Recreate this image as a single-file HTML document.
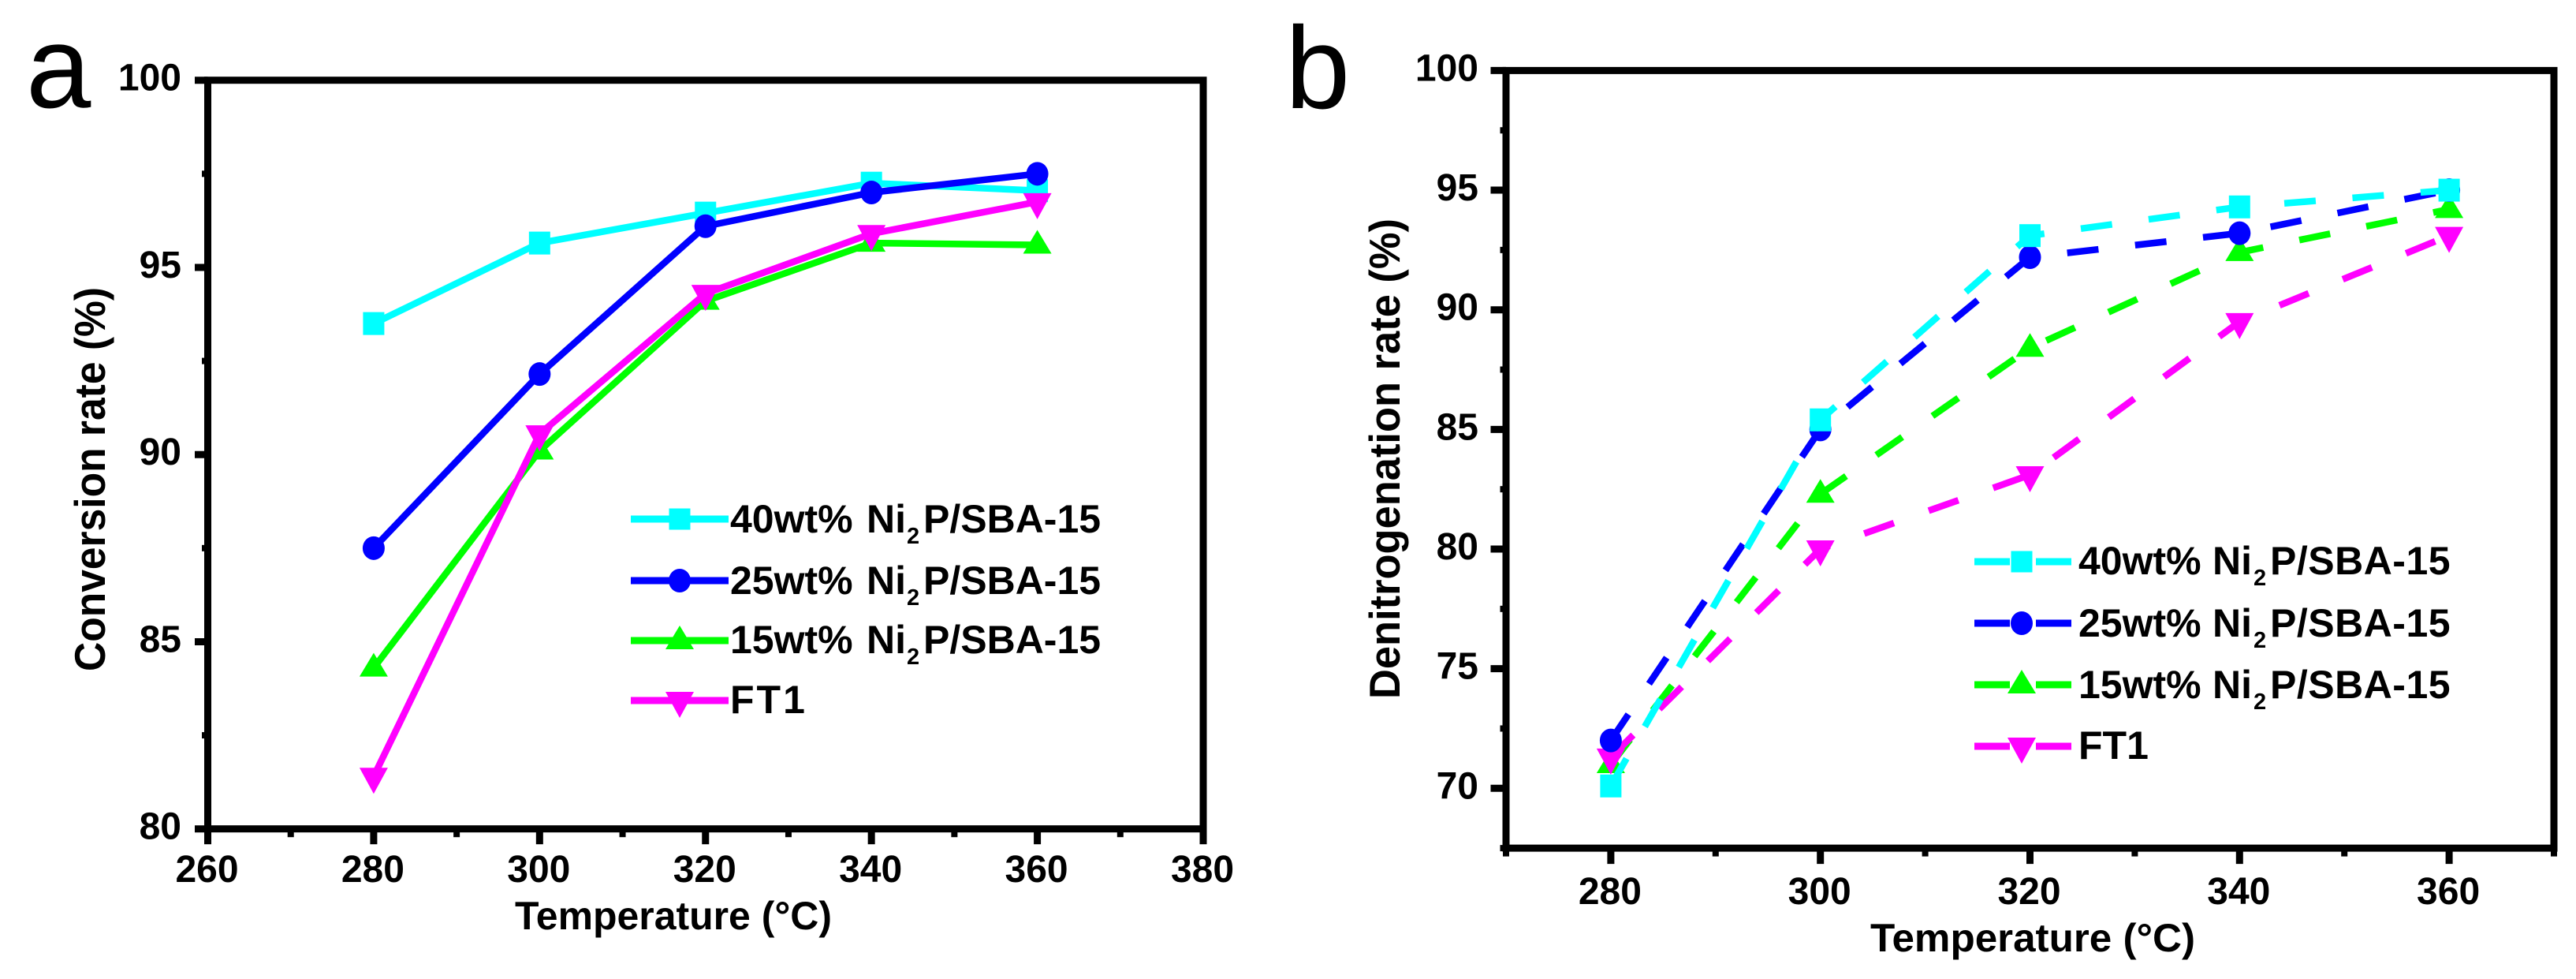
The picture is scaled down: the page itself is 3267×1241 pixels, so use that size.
<!DOCTYPE html>
<html lang="en">
<head>
<meta charset="utf-8">
<title>Conversion and denitrogenation rate vs temperature</title>
<style>
html,body{margin:0;padding:0;background:#fff;}
svg{display:block;}
text{font-family:"Liberation Sans",Arial,sans-serif;font-weight:bold;fill:#000;}
.panel-letter{font-weight:normal;font-size:148px;}
.tick-label{font-size:48px;}
.x-title{font-size:50px;}
.y-title{font-size:55px;}
.legend-text{font-size:50px;}
.legend-sub{font-size:29px;}
</style>
</head>
<body>
<svg id="figure" xmlns="http://www.w3.org/2000/svg" width="3267" height="1241" viewBox="0 0 3267 1241">
  <rect width="3267" height="1241" fill="#fff"/>
  <g id="panel-a">
    <text class="panel-letter" x="33" y="136">a</text>
    <text class="x-title" x="653" y="1178" textLength="402" lengthAdjust="spacingAndGlyphs">Temperature (°C)</text>
    <text class="y-title" transform="translate(133 851) rotate(-90)" textLength="487" lengthAdjust="spacingAndGlyphs">Conversion rate (%)</text>
    <g id="marks-a"></g>
    <g>
      <g>
        <line x1="800" x2="924" y1="658" y2="658" stroke="#00ffff" stroke-width="9"/>
        <rect x="848.500" y="644.500" width="27" height="27" fill="#00ffff"/>
        <text class="legend-text" y="675"><tspan x="926">40wt%</tspan><tspan x="1099">Ni</tspan><tspan class="legend-sub" x="1150" dy="14">2</tspan><tspan x="1171" dy="-14">P/SBA-15</tspan></text>
      </g>
      <g>
        <line x1="800" x2="924" y1="736" y2="736" stroke="#0000ff" stroke-width="9"/>
        <ellipse cx="862" cy="736" rx="14" ry="15" fill="#0000ff"/>
        <text class="legend-text" y="753"><tspan x="926">25wt%</tspan><tspan x="1099">Ni</tspan><tspan class="legend-sub" x="1150" dy="14">2</tspan><tspan x="1171" dy="-14">P/SBA-15</tspan></text>
      </g>
      <g>
        <line x1="800" x2="924" y1="812" y2="812" stroke="#00ff00" stroke-width="9"/>
        <polygon points="862,793 880,823 844,823" fill="#00ff00"/>
        <text class="legend-text" y="828"><tspan x="926">15wt%</tspan><tspan x="1099">Ni</tspan><tspan class="legend-sub" x="1150" dy="14">2</tspan><tspan x="1171" dy="-14">P/SBA-15</tspan></text>
      </g>
      <g>
        <line x1="800" x2="924" y1="888" y2="888" stroke="#ff00ff" stroke-width="9"/>
        <polygon points="844,877 880,877 862,910" fill="#ff00ff"/>
        <text class="legend-text" y="904" x="926" letter-spacing="3">FT1</text>
      </g>
    </g>
  </g>
  <g id="panel-b">
    <text class="panel-letter" x="1630" y="137">b</text>
    <text class="x-title" x="2372" y="1206" textLength="412" lengthAdjust="spacingAndGlyphs">Temperature (°C)</text>
    <text class="y-title" transform="translate(1775 886) rotate(-90)" textLength="609" lengthAdjust="spacingAndGlyphs">Denitrogenation rate (%)</text>
    <g id="marks-b"></g>
    <g>
      <g>
        <line x1="2504" x2="2627" y1="712" y2="712" stroke="#00ffff" stroke-width="9" stroke-dasharray="45 33"/>
        <rect x="2550.500" y="698.500" width="27" height="27" fill="#00ffff"/>
        <text class="legend-text" y="728"><tspan x="2636">40wt%</tspan><tspan x="2806">Ni</tspan><tspan class="legend-sub" x="2858" dy="14">2</tspan><tspan x="2879" dy="-14" letter-spacing="0.500">P/SBA-15</tspan></text>
      </g>
      <g>
        <line x1="2504" x2="2627" y1="790" y2="790" stroke="#0000ff" stroke-width="9" stroke-dasharray="45 33"/>
        <ellipse cx="2564" cy="790" rx="14" ry="15" fill="#0000ff"/>
        <text class="legend-text" y="807"><tspan x="2636">25wt%</tspan><tspan x="2806">Ni</tspan><tspan class="legend-sub" x="2858" dy="14">2</tspan><tspan x="2879" dy="-14" letter-spacing="0.500">P/SBA-15</tspan></text>
      </g>
      <g>
        <line x1="2504" x2="2627" y1="868" y2="868" stroke="#00ff00" stroke-width="9" stroke-dasharray="45 33"/>
        <polygon points="2564,849 2582,879 2546,879" fill="#00ff00"/>
        <text class="legend-text" y="885"><tspan x="2636">15wt%</tspan><tspan x="2806">Ni</tspan><tspan class="legend-sub" x="2858" dy="14">2</tspan><tspan x="2879" dy="-14" letter-spacing="0.500">P/SBA-15</tspan></text>
      </g>
      <g>
        <line x1="2504" x2="2627" y1="946" y2="946" stroke="#ff00ff" stroke-width="9" stroke-dasharray="45 33"/>
        <polygon points="2546,935 2582,935 2564,968" fill="#ff00ff"/>
        <text class="legend-text" y="962" x="2636">FT1</text>
      </g>
    </g>
  </g>
</svg>
<script>
// Panel a values
const temperaturesA = [280, 300, 320, 340, 360];
const conv40wt = [93.5, 95.65, 96.45, 97.25, 97.05];
const conv25wt = [87.5, 92.15, 96.1, 97.0, 97.5];
const conv15wt = [84.3, 90.1, 94.1, 95.65, 95.6];
const convFT1 = [81.4, 90.55, 94.3, 95.9, 96.75];
const xTicksA = [260, 280, 300, 320, 340, 360, 380];
const xMinorA = [270, 290, 310, 330, 350, 370];
const yTicksA = [80, 85, 90, 95, 100];
const yMinorA = [82.5, 87.5, 92.5, 97.5];

// Panel b values
const temperaturesB = [280, 300, 320, 340, 360];
const denit40wt = [70.1, 85.4, 93.1, 94.3, 95.0];
const denit25wt = [72.0, 85.0, 92.2, 93.2, 95.0];
const denit15wt = [71.0, 82.3, 88.4, 92.4, 94.2];
const denitFT1 = [71.3, 80.0, 83.1, 89.5, 93.1];
const xTicksB = [280, 300, 320, 340, 360];
const xMinorB = [270, 290, 310, 330, 350, 370];
const yTicksB = [70, 75, 80, 85, 90, 95, 100];
const yMinorB = [67.5, 72.5, 77.5, 82.5, 87.5, 92.5, 97.5];

const NS = 'http://www.w3.org/2000/svg';

function linearScale(d0, d1, r0, r1) {
  return function (v) { return r0 + (v - d0) * (r1 - r0) / (d1 - d0); };
}

function makeEl(parent, tag) {
  const el = document.createElementNS(NS, tag);
  parent.appendChild(el);
  return el;
}

function drawMarker(parent, shape, cx, cy, color) {
  let el;
  if (shape === 'square') {
    el = makeEl(parent, 'rect');
    el.setAttribute('x', cx - 13.5);
    el.setAttribute('y', cy - 14.5);
    el.setAttribute('width', 27);
    el.setAttribute('height', 29);
  } else if (shape === 'circle') {
    el = makeEl(parent, 'ellipse');
    el.setAttribute('cx', cx);
    el.setAttribute('cy', cy);
    el.setAttribute('rx', 14);
    el.setAttribute('ry', 15);
  } else if (shape === 'up') {
    el = makeEl(parent, 'polygon');
    el.setAttribute('points', (cx) + ',' + (cy - 19) + ' ' + (cx + 18) + ',' + (cy + 11) + ' ' + (cx - 18) + ',' + (cy + 11));
  } else {
    el = makeEl(parent, 'polygon');
    el.setAttribute('points', (cx - 18) + ',' + (cy - 11) + ' ' + (cx + 18) + ',' + (cy - 11) + ' ' + (cx) + ',' + (cy + 22));
  }
  el.setAttribute('fill', color);
  
  
}

function drawSeries(parent, xs, ys, x, y, color, shape, name, dash, dashOffset) {
  const g = makeEl(parent, 'g');
  
  
  const line = makeEl(g, 'polyline');
  line.setAttribute('points', xs.map(function (v, i) { return x(v) + ',' + y(ys[i]); }).join(' '));
  line.setAttribute('fill', 'none');
  line.setAttribute('stroke', color);
  line.setAttribute('stroke-width', 8.5);
  line.setAttribute('stroke-linejoin', 'round');
  if (dash) {
    line.setAttribute('stroke-dasharray', dash);
    line.setAttribute('stroke-dashoffset', dashOffset);
  }
  
  
  xs.forEach(function (v, i) {
    drawMarker(g, shape, x(v), y(ys[i]), color);
  });
}

function drawAxes(parent, cfg) {
  const x = cfg.x, y = cfg.y;
  const g = makeEl(parent, 'g');
  
  
  const left = x(cfg.xDomain[0]), right = x(cfg.xDomain[1]);
  const top = y(cfg.yDomain[1]), bottom = y(cfg.yDomain[0]);
  const frame = makeEl(g, 'rect');
  frame.setAttribute('x', left);
  frame.setAttribute('y', top);
  frame.setAttribute('width', right - left);
  frame.setAttribute('height', bottom - top);
  frame.setAttribute('fill', 'none');
  frame.setAttribute('stroke', '#000');
  frame.setAttribute('stroke-width', 9);
  
  

  function tick(x1, y1, x2, y2, w, tname) {
    const t = makeEl(g, 'line');
    t.setAttribute('x1', x1);
    t.setAttribute('y1', y1);
    t.setAttribute('x2', x2);
    t.setAttribute('y2', y2);
    t.setAttribute('stroke', '#000');
    t.setAttribute('stroke-width', w);
    
    
  }
  function label(txt, lx, ly, anchor, lname) {
    const t = makeEl(g, 'text');
    t.textContent = txt;
    t.setAttribute('x', lx);
    t.setAttribute('y', ly);
    t.setAttribute('text-anchor', anchor);
    t.setAttribute('class', 'tick-label');
    
    
  }
  cfg.xTicks.forEach(function (v) {
    tick(x(v), bottom, x(v), bottom + cfg.majorX, 9, 'x-tick-' + v);
    label(String(v), x(v) - 1, cfg.xLabelY, 'middle', 'x-tick-label-' + v);
  });
  cfg.xMinor.forEach(function (v) {
    tick(x(v), bottom, x(v), bottom + cfg.minorX, 8, 'x-minor-tick-' + v);
  });
  cfg.yTicks.forEach(function (v) {
    tick(left, y(v), left - cfg.majorY, y(v), 9, 'y-tick-' + v);
    label(String(v), cfg.yLabelX, y(v) + 13, 'end', 'y-tick-label-' + v);
  });
  cfg.yMinor.forEach(function (v) {
    tick(left, y(v), left - cfg.minorY, y(v), 8, 'y-minor-tick-' + v);
  });
}

const xA = linearScale(260, 380, 263.5, 1526);
const yA = linearScale(80, 100, 1050.7, 101.7);
const marksA = document.getElementById('marks-a');
drawAxes(marksA, {
  name: 'panel-a', x: xA, y: yA, xDomain: [260, 380], yDomain: [80, 100],
  xTicks: xTicksA, xMinor: xMinorA, yTicks: yTicksA, yMinor: yMinorA,
  majorX: 19.5, minorX: 10.5, majorY: 16.5, minorY: 7.5, xLabelY: 1118, yLabelX: 230
});
drawSeries(marksA, temperaturesA, conv40wt, xA, yA, '#00ffff', 'square', 'series-40wt-a');
drawSeries(marksA, temperaturesA, conv25wt, xA, yA, '#0000ff', 'circle', 'series-25wt-a');
drawSeries(marksA, temperaturesA, conv15wt, xA, yA, '#00ff00', 'up', 'series-15wt-a');
drawSeries(marksA, temperaturesA, convFT1, xA, yA, '#ff00ff', 'down', 'series-ft1-a');

const xB = linearScale(270, 370, 1910, 3239);
const yB = linearScale(70, 100, 999.3, 89.4);
const marksB = document.getElementById('marks-b');
drawAxes(marksB, {
  name: 'panel-b', x: xB, y: yB, xDomain: [270, 370], yDomain: [67.5, 100],
  xTicks: xTicksB, xMinor: xMinorB, yTicks: yTicksB, yMinor: yMinorB,
  majorX: 20, minorX: 10.5, majorY: 19.5, minorY: 7.5, xLabelY: 1146, yLabelX: 1875
});
drawSeries(marksB, temperaturesB, denit15wt, xB, yB, '#00ff00', 'up', 'series-15wt-b', '40 46.7', 0);
drawSeries(marksB, temperaturesB, denitFT1, xB, yB, '#ff00ff', 'down', 'series-ft1-b', '40 46.7', 0);
drawSeries(marksB, temperaturesB, denit25wt, xB, yB, '#0000ff', 'circle', 'series-25wt-b', '40 46.7', 0);
drawSeries(marksB, temperaturesB, denit40wt, xB, yB, '#00ffff', 'square', 'series-40wt-b', '40 46.7', 0);
</script>
</body>
</html>
